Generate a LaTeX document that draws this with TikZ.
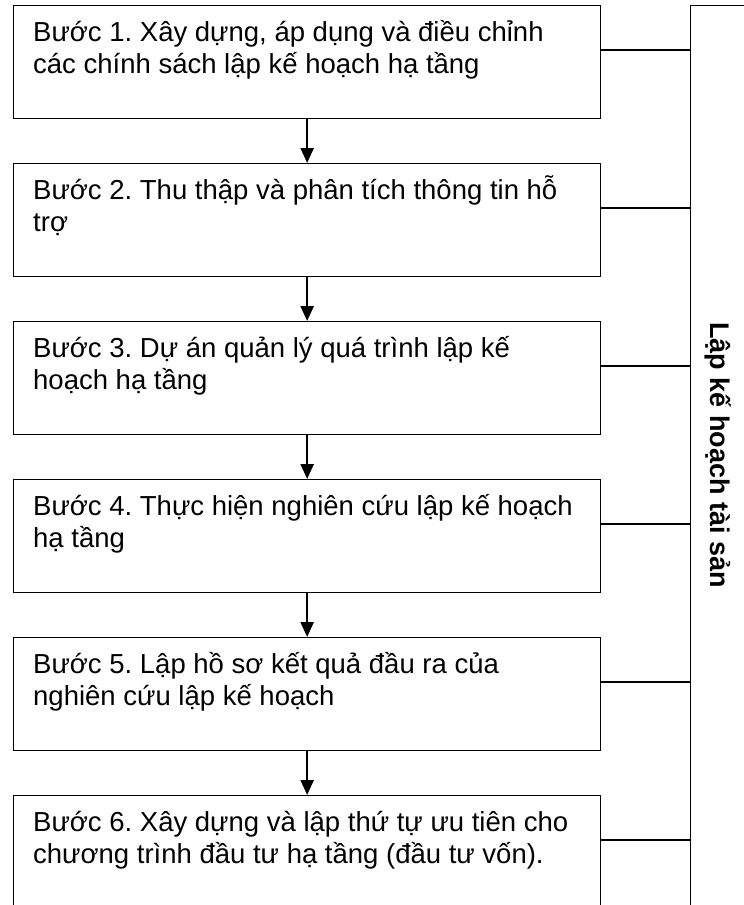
\documentclass[tikz,border=0pt]{standalone}
\usepackage{fontspec}
\setmainfont{Liberation Sans}
\usetikzlibrary{arrows.meta}
\frenchspacing
\begin{document}
\begin{tikzpicture}[x=1pt,y=-1pt,
  stepbox/.style={draw, line width=1.3pt, minimum width=587pt, minimum height=113pt, anchor=north west, inner sep=0pt},
  steptext/.style={anchor=north west, inner sep=0pt, align=left, font={\fontsize{27.5}{32.5}\selectfont\frenchspacing\lineskiplimit=-100pt}},
  link/.style={line width=1.3pt},
  flow/.style={line width=2.4pt, -{Triangle[length=15pt,width=13pt]}}]
\useasboundingbox (0,0) rectangle (744,905);
\fill[white] (0,0) rectangle (744,905);
\clip (0,0) rectangle (744,905);
% right bracket box
\node[draw, line width=1.3pt, anchor=north west, minimum width=90pt, minimum height=950pt, inner sep=0pt] (R) at (690,5) {};
\node[rotate=-90, inner sep=0pt, font={\fontsize{27}{31}\selectfont\bfseries}] (lab) at (718,455) {Lập kế hoạch tài sản};
% step boxes
\node[stepbox] (b1) at (13,5) {};
\node[stepbox] (b2) at (13,163) {};
\node[stepbox] (b3) at (13,321) {};
\node[stepbox] (b4) at (13,479) {};
\node[stepbox] (b5) at (13,637) {};
\node[stepbox] (b6) at (13,795) {};
\node[steptext] (t1) at (33,13) {\rule{0pt}{28pt}Bước 1. Xây dựng, áp dụng và điều chỉnh\\các chính sách lập kế hoạch hạ tầng};
\node[steptext] (t2) at (33,171) {\rule{0pt}{28pt}Bước 2. Thu thập và phân tích thông tin hỗ\\trợ};
\node[steptext] (t3) at (33,329) {\rule{0pt}{28pt}Bước 3. Dự án quản lý quá trình lập kế\\hoạch hạ tầng};
\node[steptext] (t4) at (33,487) {\rule{0pt}{28pt}Bước 4. Thực hiện nghiên cứu lập kế hoạch\\hạ tầng};
\node[steptext] (t5) at (33,645) {\rule{0pt}{28pt}Bước 5. Lập hồ sơ kết quả đầu ra của\\nghiên cứu lập kế hoạch};
\node[steptext] (t6) at (33,803) {\rule{0pt}{28pt}Bước 6. Xây dựng và lập thứ tự ưu tiên cho\\chương trình đầu tư hạ tầng (đầu tư vốn).};
% arrows
\draw[flow] (b1.south) -- (b2.north);
\draw[flow] (b2.south) -- (b3.north);
\draw[flow] (b3.south) -- (b4.north);
\draw[flow] (b4.south) -- (b5.north);
\draw[flow] (b5.south) -- (b6.north);
% connectors to bracket
\foreach \b in {b1,b2,b3,b4,b5,b6}{
  \path ([yshift=-45pt]\b.north east) coordinate (c\b);
  \draw[link] (c\b) -- (c\b -| R.west);
}
\end{tikzpicture}
\end{document}
